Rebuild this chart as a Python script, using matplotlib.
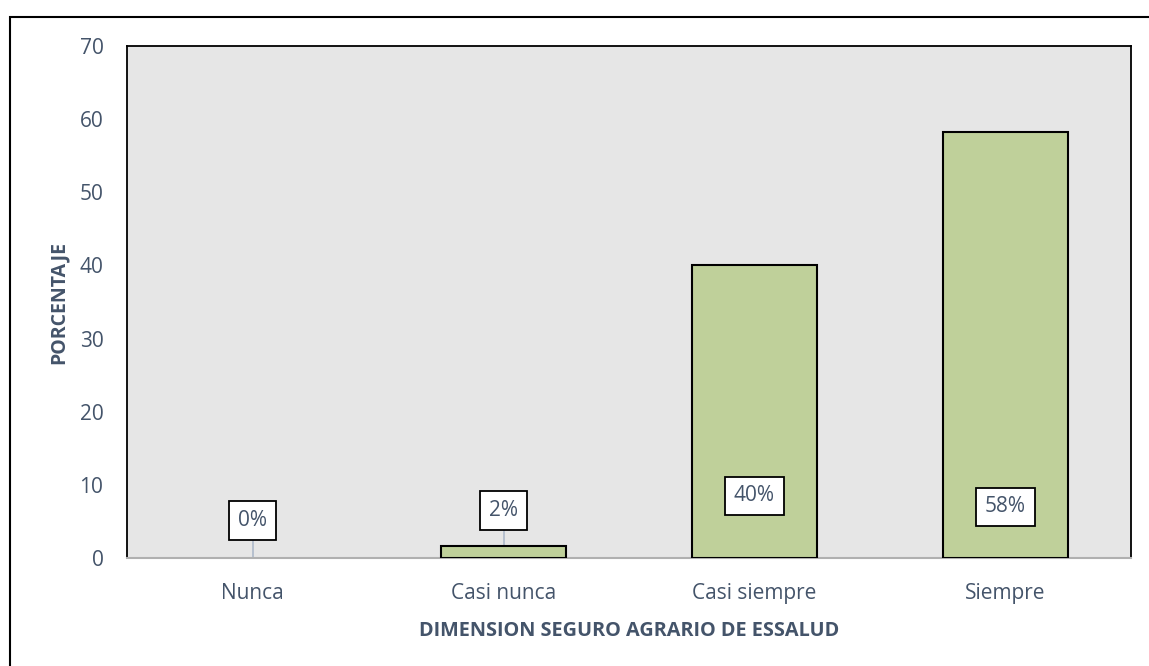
import matplotlib
import matplotlib.pyplot as plt
from matplotlib.patches import Rectangle

matplotlib.use("Agg")

plt.rcParams['font.family'] = ['Open Sans', 'DejaVu Sans']

categories = ["Nunca", "Casi nunca", "Casi siempre", "Siempre"]
values = [0, 1.6, 40, 58.3]
labels = ["0%", "2%", "40%", "58%"]
label_y = [5.1, 6.5, 8.5, 7.0]  # where each data label box sits

text_color = "#44546A"

fig = plt.figure(figsize=(11.49, 6.66), dpi=100)
W, H = 1149, 666
ax = fig.add_axes([127 / W, 1 - 558 / H, (1131 - 127) / W, (558 - 46) / H])

# outer chart border (runs off the right/bottom edges)
fig.patches.append(Rectangle((10 / W, -0.05), 1.1, 1 - 17 / H + 0.05, transform=fig.transFigure,
                             fill=False, edgecolor="black", linewidth=1.5))

ax.set_facecolor("#E6E6E6")
x = range(len(categories))
edges = ["black" if v > 0 else "none" for v in values]
ax.bar(x, values, width=0.5, color="#BFD09A", edgecolor=edges, linewidth=1.5, zorder=3)

for i, (v, lab, ly) in enumerate(zip(values, labels, label_y)):
    if ly - 2.6 > v:
        ax.plot([i, i], [v, ly - 2.6], color="#ADB9CA", linewidth=1.2, zorder=2)
    ax.text(i, ly, lab, ha="center", va="center", fontsize=15, color=text_color, zorder=5,
            bbox=dict(boxstyle="square,pad=0.42", facecolor="white", edgecolor="black", linewidth=1.3))

ax.set_xlim(-0.5, 3.5)
ax.set_ylim(0, 70)
ax.set_yticks(range(0, 71, 10))
ax.set_xticks(list(x))
ax.set_xticklabels(categories)
ax.tick_params(axis="both", length=0, labelsize=15, labelcolor=text_color)
ax.tick_params(axis="y", pad=17)
ax.tick_params(axis="x", pad=18)

for s in ("left", "top", "right"):
    ax.spines[s].set_color("black")
    ax.spines[s].set_linewidth(1.3)
ax.spines["bottom"].set_color("#B0B0B0")
ax.spines["bottom"].set_linewidth(1.5)

ax.set_ylabel("PORCENTAJE", fontsize=14, fontweight="bold", color=text_color, labelpad=8)
ax.set_xlabel("DIMENSION SEGURO AGRARIO DE ESSALUD", fontsize=14.3, fontweight="bold",
              color=text_color, labelpad=12)

plt.savefig("out.png", dpi=100)
